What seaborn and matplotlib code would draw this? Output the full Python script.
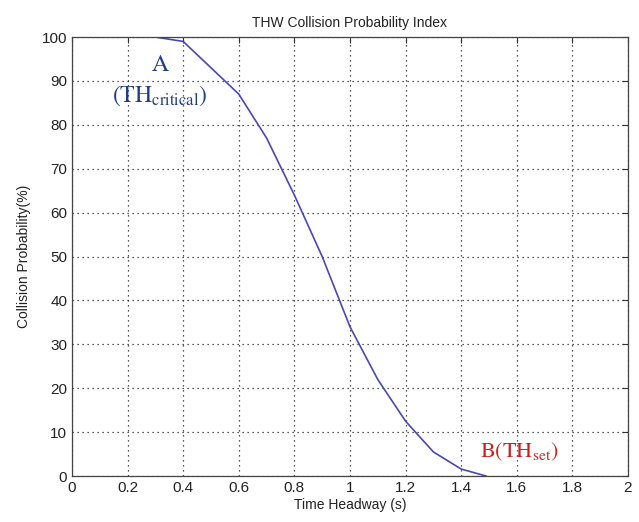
import matplotlib
matplotlib.use("Agg")
import matplotlib.pyplot as plt
import seaborn as sns
import pandas as pd

# values
headway = [0.3, 0.4, 0.5, 0.6, 0.7, 0.8, 0.9, 1.0, 1.1, 1.2, 1.3, 1.4, 1.49]
probability = [100, 99, 93, 87, 77, 64, 50, 34, 22, 12.5, 5.5, 1.6, 0]

x_ticks = [0, 0.2, 0.4, 0.6, 0.8, 1, 1.2, 1.4, 1.6, 1.8, 2]
x_tick_labels = ["0", "0.2", "0.4", "0.6", "0.8", "1", "1.2", "1.4", "1.6", "1.8", "2"]
y_ticks = [0, 10, 20, 30, 40, 50, 60, 70, 80, 90, 100]

df = pd.DataFrame({"headway": headway, "probability": probability})

sns.set_style("white")
plt.rcParams["font.family"] = ["Liberation Sans", "DejaVu Sans"]
plt.rcParams["mathtext.fontset"] = "stix"

fig = plt.figure(figsize=(6.39, 5.22), dpi=100)
ax = fig.add_axes([0.1127, 0.088, 0.870, 0.841])

sns.lineplot(data=df, x="headway", y="probability", ax=ax,
             color="#4848b4", linewidth=1.2)

ax.set_xlim(0, 2)
ax.set_ylim(0, 100)
ax.set_xticks(x_ticks)
ax.set_xticklabels(x_tick_labels)
ax.set_yticks(y_ticks)
ax.grid(True, linestyle=(0, (1, 3)), color="#222222", linewidth=0.9)
ax.tick_params(direction="in", top=True, right=True, length=4,
               labelsize=11, colors="#333333", labelcolor="#222222")
for s in ax.spines.values():
    s.set_color("#444444")
    s.set_linewidth(0.9)

ax.set_title("THW Collision Probability Index", fontsize=10, color="#222222", pad=7)
ax.set_xlabel("Time Headway (s)", fontsize=10, color="#222222", labelpad=2)
ax.set_ylabel("Collision Probability(%)", fontsize=10, color="#222222", labelpad=8)

ax.text(0.317, 93.6, "A", fontsize=17, color="#1f3c88",
        family="STIXGeneral", ha="center", va="center")
ax.text(0.317, 86.6, r"(TH$_{\mathrm{critical}}$)", fontsize=17, color="#1f3c88",
        family="STIXGeneral", ha="center", va="center")
ax.text(1.61, 5.5, r"B(TH$_{\mathrm{set}}$)", fontsize=16, color="#cc2020",
        family="STIXGeneral", ha="center", va="center")

fig.savefig("out.png", dpi=100)
